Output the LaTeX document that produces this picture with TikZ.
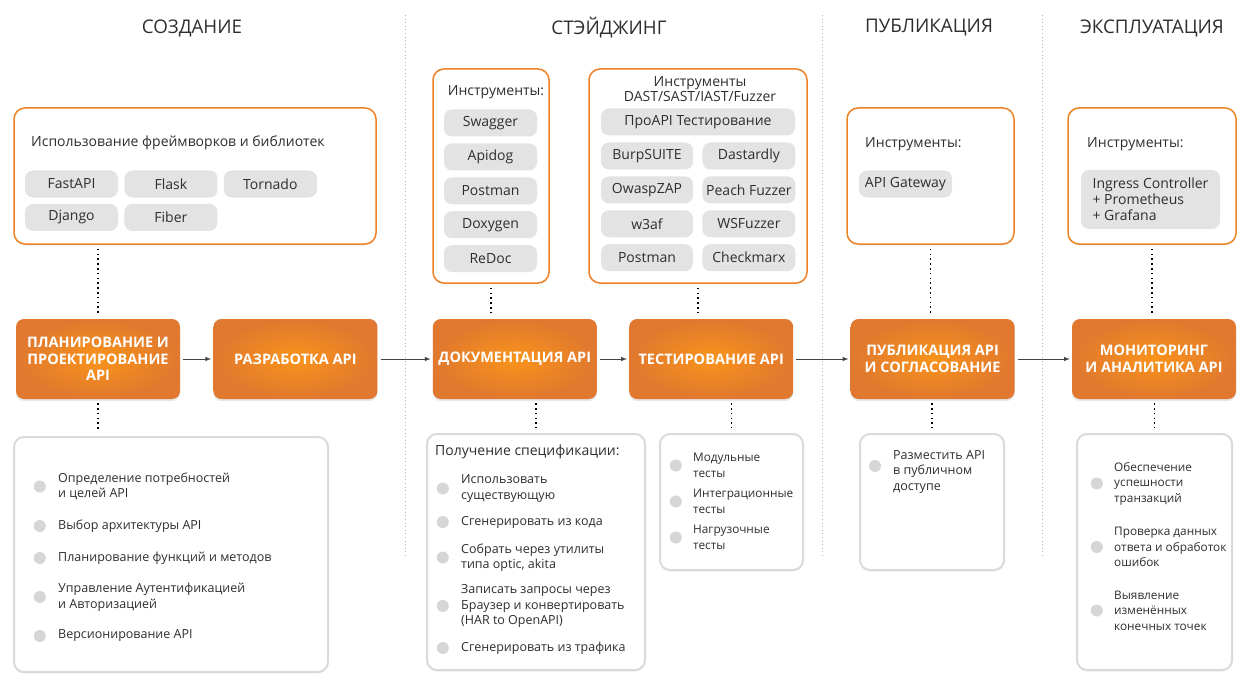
\documentclass[tikz,border=0pt]{standalone}
\usepackage{fontspec}
\setmainfont{Open Sans}
\usetikzlibrary{positioning,shadows}
\definecolor{brand}{HTML}{EF8122}
\definecolor{brandlight}{HTML}{F9931A}
\definecolor{branddark}{HTML}{E0782F}
\definecolor{chipgray}{HTML}{E3E3E3}
\definecolor{bulletgray}{HTML}{D6D6D6}
\definecolor{framegray}{HTML}{DADADA}
\definecolor{sepgray}{HTML}{B5B5B5}
\definecolor{ink}{HTML}{2E2E2E}
\tikzset{
  heading/.style={text=ink, font=\fontsize{18.8}{21}\selectfont},
  stage/.style={rectangle, rounded corners=8pt, minimum width=164pt, minimum height=80pt,
    inner color=brandlight, outer color=branddark, text=white, align=center,
    font=\bfseries\fontsize{14.5}{16.5}\selectfont,
    drop shadow={opacity=0.2, shadow xshift=0pt, shadow yshift=-2pt}},
  toolbox/.style={rectangle, draw=brand, line width=1.5pt, rounded corners=11pt, fill=white,
    drop shadow={opacity=0.12, shadow xshift=0pt, shadow yshift=-1.5pt}},
  listbox/.style={rectangle, draw=framegray, line width=2pt, rounded corners=10pt, fill=white,
    drop shadow={opacity=0.12, shadow xshift=0pt, shadow yshift=-1.5pt}},
  chip/.style={rectangle, fill=chipgray, rounded corners=8pt, minimum width=93pt,
    minimum height=27pt, inner sep=2pt, text=ink, font=\fontsize{14}{16}\selectfont},
  label_text/.style={anchor=west, inner sep=0pt, text=ink, align=left, font=\fontsize{14}{15}\selectfont},
  item/.style={anchor=west, inner sep=0pt, text=ink, align=left, font=\fontsize{12.5}{15.5}\selectfont},
  small_item/.style={item, font=\fontsize{11.8}{15.5}\selectfont},
  bullet/.style={circle, fill=bulletgray, minimum size=12pt, inner sep=0pt},
  flow/.style={->, draw=ink!90, line width=1pt, shorten >=2pt, shorten <=3pt},
  dotlink/.style={draw=black, line width=1.6pt, dash pattern=on 1.6pt off 3.2pt, shorten >=5pt, shorten <=4pt},
  sepline/.style={draw=sepgray, line width=1pt, dash pattern=on 1pt off 2.6pt}
}
\begin{document}
\begin{tikzpicture}[>=latex, x=1pt, y=-1pt]
\useasboundingbox (0,0) rectangle (1246,679);

\node[heading, name=h_create] at (192,28) {СОЗДАНИЕ};
\node[heading, name=h_staging] at (609,28) {СТЭЙДЖИНГ};
\node[heading, name=h_publish] at (929,28) {ПУБЛИКАЦИЯ};
\node[heading, name=h_ops] at (1152,28) {ЭКСПЛУАТАЦИЯ};

\draw[sepline] (405,15) -- (405,558);
\draw[sepline] (822,15) -- (822,558);
\draw[sepline] (1042,15) -- (1042,558);

\node[stage, name=plan] at (98,359) {ПЛАНИРОВАНИЕ И\\ПРОЕКТИРОВАНИЕ\\API};
\node[stage, name=dev, right=33pt of plan] {РАЗРАБОТКА API};
\node[stage, name=docs, right=55pt of dev] {ДОКУМЕНТАЦИЯ API};
\node[stage, name=testing, right=32pt of docs] {ТЕСТИРОВАНИЕ API};
\node[stage, name=publish, right=57pt of testing] {ПУБЛИКАЦИЯ API\\И СОГЛАСОВАНИЕ};
\node[stage, name=monitor, right=57pt of publish] {МОНИТОРИНГ\\И АНАЛИТИКА API};

\node[toolbox, name=tools_create, minimum width=362pt, minimum height=136pt] at (195,176) {};
\node[label_text, name=frameworks] at (31,143) {Использование фреймворков и библиотек};
\node[chip, name=fastapi] at (71.5,184) {FastAPI};
\node[chip, name=flask, right=6pt of fastapi] {Flask};
\node[chip, name=tornado, right=6pt of flask] {Tornado};
\node[chip, name=django, below=6pt of fastapi] {Django};
\node[chip, name=fiber, right=6pt of django] {Fiber};

\node[toolbox, name=tools_doc, minimum width=116pt, minimum height=214pt] at (491,176) {};
\node[label_text, name=doc_title, anchor=center] at (496,92) {Инструменты:};
\node[chip, name=swagger] at (490.5,123) {Swagger};
\node[chip, name=apidog, below=6.5pt of swagger] {Apidog};
\node[chip, name=postman_doc, below=6.5pt of apidog] {Postman};
\node[chip, name=doxygen, below=6.5pt of postman_doc] {Doxygen};
\node[chip, name=redoc, below=6.5pt of doxygen] {ReDoc};

\node[toolbox, name=tools_test, minimum width=218pt, minimum height=214pt] at (698,176) {};
\node[label_text, name=test_title, anchor=center, align=center] at (700,89.5) {Инструменты\\DAST/SAST/IAST/Fuzzer};
\node[chip, name=proapi, minimum width=194pt] at (698,122) {ПроAPI Тестирование};
\node[chip, name=burp, minimum width=92pt] at (647,156) {BurpSUITE};
\node[chip, name=dastardly, right=9pt of burp] {Dastardly};
\node[chip, name=owasp, minimum width=92pt, below=6.5pt of burp] {OwaspZAP};
\node[chip, name=peach, right=9pt of owasp] {Peach Fuzzer};
\node[chip, name=w3af, minimum width=92pt, below=6.5pt of owasp] {w3af};
\node[chip, name=wsfuzzer, right=9pt of w3af] {WSFuzzer};
\node[chip, name=postman_test, minimum width=92pt, below=6.5pt of w3af] {Postman};
\node[chip, name=checkmarx, right=9pt of postman_test] {Checkmarx};

\node[toolbox, name=tools_pub, minimum width=167pt, minimum height=136pt] at (930.5,176) {};
\node[label_text, name=pub_title] at (865,144) {Инструменты:};
\node[chip, name=gateway] at (905.5,184) {API Gateway};

\node[toolbox, name=tools_ops, minimum width=168pt, minimum height=136pt] at (1152,176) {};
\node[label_text, name=ops_title] at (1087,144) {Инструменты:};
\node[chip, name=ingress, minimum width=139pt, minimum height=59pt, align=left] at (1150.5,199.5) {Ingress Controller\\+ Prometheus\\+ Grafana};

\node[listbox, name=list_plan, minimum width=314pt, minimum height=235pt] at (171,554.5) {};
\node[item, name=p1] at (58,486.5) {Определение потребностей\\и целей API};
\node[item, name=p2] at (58,526) {Выбор архитектуры API};
\node[item, name=p3] at (58,558) {Планирование функций и методов};
\node[item, name=p4] at (58,597) {Управление Аутентификацией\\и Авторизацией};
\node[item, name=p5] at (58,636) {Версионирование API};
\node[bullet, left=12pt of p1.west] {};
\node[bullet, left=12pt of p2.west] {};
\node[bullet, left=12pt of p3.west] {};
\node[bullet, left=12pt of p4.west] {};
\node[bullet, left=12pt of p5.west] {};

\node[listbox, name=list_doc, minimum width=218pt, minimum height=236pt] at (536,552) {};
\node[label_text, name=spec_title] at (435,452) {Получение спецификации:};
\node[item, name=d1] at (461,488.5) {Использовать\\существующую};
\node[item, name=d2] at (461,522) {Сгенерировать из кода};
\node[item, name=d3] at (461,557.5) {Собрать через утилиты\\типа optic, akita};
\node[item, name=d4] at (461,606) {Записать запросы через\\Браузер и конвертировать\\(HAR to OpenAPI)};
\node[item, name=d5] at (461,648) {Сгенерировать из трафика};
\node[bullet, left=12pt of d1.west] {};
\node[bullet, left=12pt of d2.west] {};
\node[bullet, left=12pt of d3.west] {};
\node[bullet, left=12pt of d4.west] {};
\node[bullet, left=12pt of d5.west] {};

\node[listbox, name=list_test, minimum width=143pt, minimum height=136pt] at (731.5,502) {};
\node[small_item, name=t1] at (693,465.5) {Модульные\\тесты};
\node[small_item, name=t2] at (693,501.5) {Интеграционные\\тесты};
\node[small_item, name=t3] at (693,537.5) {Нагрузочные\\тесты};
\node[bullet, left=11pt of t1.west] {};
\node[bullet, left=11pt of t2.west] {};
\node[bullet, left=11pt of t3.west] {};

\node[listbox, name=list_pub, minimum width=144pt, minimum height=136pt] at (932,502) {};
\node[item, name=u1] at (893,472) {Разместить API\\в публичном\\доступе};
\node[bullet] at (875,466) {};

\node[listbox, name=list_ops, minimum width=155pt, minimum height=236pt] at (1154.5,552) {};
\node[small_item, name=m1] at (1114,483.5) {Обеспечение\\успешности\\транзакций};
\node[small_item, name=m2] at (1114,547) {Проверка данных\\ответа и обработок\\ошибок};
\node[small_item, name=m3] at (1114,610.5) {Выявление\\изменённых\\конечных точек};
\node[bullet, left=11pt of m1.west] {};
\node[bullet, left=11pt of m2.west] {};
\node[bullet, left=11pt of m3.west] {};

\draw(plan.east) edge[flow](dev.west);
\draw(dev.east) edge[flow](docs.west);
\draw(docs.east) edge[flow](testing.west);
\draw(testing.east) edge[flow](publish.west);
\draw(publish.east) edge[flow](monitor.west);

\draw(tools_create.south -| plan.north) edge[dotlink](plan.north);
\draw(tools_doc.south) edge[dotlink](tools_doc.south |- docs.north);
\draw(tools_test.south) edge[dotlink](tools_test.south |- testing.north);
\draw(tools_pub.south) edge[dotlink](tools_pub.south |- publish.north);
\draw(tools_ops.south) edge[dotlink](tools_ops.south |- monitor.north);

\draw(plan.south) edge[dotlink](plan.south |- list_plan.north);
\draw(list_doc.north |- docs.south) edge[dotlink](list_doc.north);
\draw(list_test.north |- testing.south) edge[dotlink](list_test.north);
\draw(list_pub.north |- publish.south) edge[dotlink](list_pub.north);
\draw(list_ops.north |- monitor.south) edge[dotlink](list_ops.north);
\end{tikzpicture}
\end{document}
